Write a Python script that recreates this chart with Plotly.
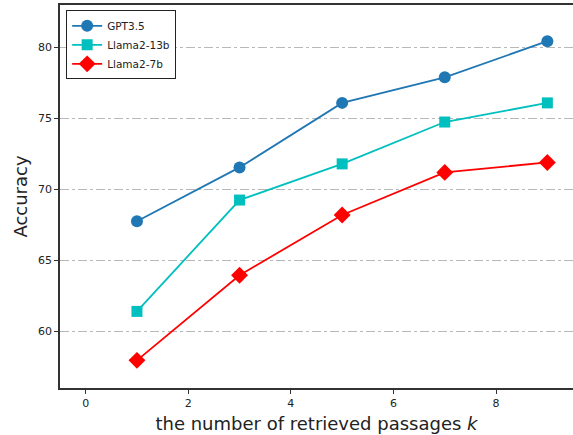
import plotly.graph_objects as go

k_values = [1, 3, 5, 7, 9]
gpt35 = [67.75, 71.55, 76.1, 77.9, 80.45]
llama2_13b = [61.4, 69.25, 71.8, 74.75, 76.1]
llama2_7b = [57.95, 63.95, 68.2, 71.2, 71.9]

series = [
    ("GPT3.5", gpt35, "#1f77b4", "circle", 12),
    ("Llama2-13b", llama2_13b, "#00bfbf", "square", 11),
    ("Llama2-7b", llama2_7b, "#ff0000", "diamond", 13),
]

fig = go.Figure()
for name, vals, color, sym, size in series:
    fig.add_trace(go.Scatter(
        x=k_values, y=vals, name=name, mode="lines+markers",
        line=dict(color=color, width=1.8),
        marker=dict(symbol=sym, size=size, color=color),
    ))

axis_common = dict(
    showline=True, linecolor="#333333", linewidth=1.5,
    ticks="outside", ticklen=4, tickcolor="#333333",
    tickfont=dict(family="DejaVu Sans", size=11, color="#222222"),
    zeroline=False, automargin=False,
)

fig.update_layout(
    width=573, height=435,
    margin=dict(l=60, r=0, t=5, b=47),
    paper_bgcolor="white", plot_bgcolor="white",
    font=dict(family="DejaVu Sans", color="#222222"),
    showlegend=True,
    legend=dict(
        x=0.012, y=0.986, xanchor="left", yanchor="top",
        bordercolor="#222222", borderwidth=1, bgcolor="white",
        font=dict(family="DejaVu Sans", size=10.5, color="#222222"),
        tracegroupgap=0, itemwidth=30,
    ),
    xaxis=dict(
        range=[-0.5, 9.5], tickvals=[0, 2, 4, 6, 8],
        showgrid=False, mirror=True,
        title=dict(text="the number of retrieved passages <i>k</i>",
                   font=dict(size=18, family="DejaVu Sans"), standoff=8),
        **axis_common,
    ),
    yaxis=dict(
        range=[56, 83], tickvals=[60, 65, 70, 75, 80],
        showgrid=True, gridcolor="#b8b8b8", gridwidth=1, griddash="dashdot",
        title=dict(text="Accuracy", font=dict(size=18, family="DejaVu Sans"), standoff=6),
        **axis_common,
    ),
)

fig.write_html("out.html", config={"displayModeBar": False},
               post_script="document.body.style.margin='0';")
